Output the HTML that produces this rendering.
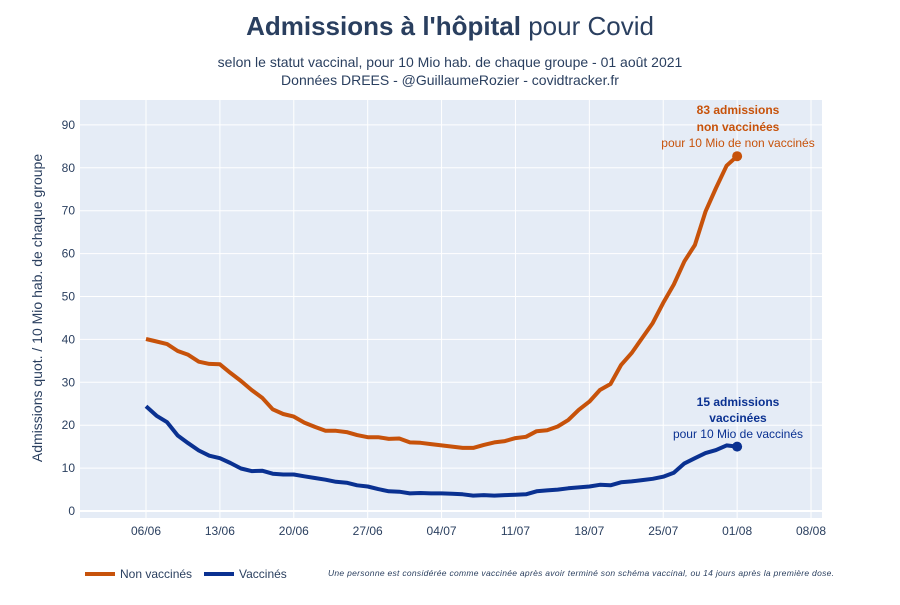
<!DOCTYPE html>
<html><head><meta charset="utf-8"><style>
body{margin:0;background:#fff;font-family:"Liberation Sans",sans-serif;}
svg text{font-family:"Liberation Sans",sans-serif;}
</style></head><body>
<svg id="chart" width="900" height="600" viewBox="0 0 900 600">
<text x="450" y="35" text-anchor="middle" font-size="26" fill="#2a3f5f"><tspan font-weight="bold">Admissions à l'hôpital</tspan> pour Covid</text>
<text x="450" y="67" text-anchor="middle" font-size="14" fill="#2a3f5f">selon le statut vaccinal, pour 10 Mio hab. de chaque groupe - 01 août 2021</text>
<text x="450" y="85" text-anchor="middle" font-size="14" fill="#2a3f5f">Données DREES - @GuillaumeRozier - covidtracker.fr</text>
<rect x="80" y="100" width="742" height="418" fill="#e5ecf6"/>
<g id="grid"></g><g id="series"></g>
<text transform="translate(42,308) rotate(-90)" text-anchor="middle" font-size="14" fill="#2a3f5f">Admissions quot. / 10 Mio hab. de chaque groupe</text>
<text x="738" y="114" text-anchor="middle" font-size="12" font-weight="bold" fill="#c7520a">83 admissions</text>
<text x="738" y="131" text-anchor="middle" font-size="12" font-weight="bold" fill="#c7520a">non vaccinées</text>
<text x="738" y="147" text-anchor="middle" font-size="12" fill="#c7520a">pour 10 Mio de non vaccinés</text>
<text x="738" y="406" text-anchor="middle" font-size="12" font-weight="bold" fill="#0a3191">15 admissions</text>
<text x="738" y="422" text-anchor="middle" font-size="12" font-weight="bold" fill="#0a3191">vaccinées</text>
<text x="738" y="438" text-anchor="middle" font-size="12" fill="#0a3191">pour 10 Mio de vaccinés</text>
<g><line x1="85" y1="574" x2="115" y2="574" stroke="#c7520a" stroke-width="4"/><text x="120" y="578" font-size="12" fill="#2a3f5f">Non vaccinés</text></g>
<g><line x1="204" y1="574" x2="234" y2="574" stroke="#0a3191" stroke-width="4"/><text x="239" y="578" font-size="12" fill="#2a3f5f">Vaccinés</text></g>
<text x="328" y="576" font-size="8.5" font-style="italic" fill="#2a3f5f" textLength="506">Une personne est considérée comme vaccinée après avoir terminé son schéma vaccinal, ou 14 jours après la première dose.</text>
</svg>
<script>
const nonVax=[40.1,39.5,38.9,37.3,36.4,34.8,34.3,34.2,32.2,30.3,28.2,26.4,23.7,22.6,22.0,20.6,19.6,18.7,18.7,18.4,17.7,17.2,17.2,16.8,16.9,
16.0,15.9,15.6,15.3,15.0,14.7,14.7,15.4,16.0,16.3,17.0,17.3,18.6,18.8,19.7,21.2,23.6,25.5,28.2,29.6,34.0,36.8,40.3,43.8,48.5,52.8,58.2,62.0,69.8,75.3,80.5,82.7];
const vax=[24.4,22.2,20.7,17.6,15.8,14.1,12.9,12.3,11.2,9.9,9.3,9.4,8.7,8.5,8.5,8.1,7.7,7.3,6.8,6.6,6.0,5.7,5.1,4.6,4.5,
4.1,4.2,4.1,4.1,4.0,3.9,3.6,3.7,3.6,3.7,3.8,3.9,4.6,4.8,5.0,5.3,5.5,5.7,6.1,6.0,6.7,6.9,7.2,7.5,8.0,8.9,11.1,12.3,13.5,14.2,15.3,15.0];
const xTickLabels=["06/06","13/06","20/06","27/06","04/07","11/07","18/07","25/07","01/08","08/08"];
const yTicks=[0,10,20,30,40,50,60,70,80,90];
const NS="http://www.w3.org/2000/svg";
const xs=d=>146+d*10.556;
const ys=v=>511-v*4.29;
function mk(t,a,p){const e=document.createElementNS(NS,t);for(const k in a)e.setAttribute(k,a[k]);p.appendChild(e);return e;}
const grid=document.getElementById('grid'),ser=document.getElementById('series');
yTicks.forEach(v=>{
 const l=mk('line',{x1:80,x2:822,y1:ys(v),y2:ys(v),stroke:'#fff','stroke-width':v===0?2:1},grid);
 
 
 const t=mk('text',{x:75,y:ys(v)+4,'text-anchor':'end','font-size':12,fill:'#2a3f5f'},grid);t.textContent=v;
 
 
});
xTickLabels.forEach((s,i)=>{
 const x=xs(i*7);
 const l=mk('line',{x1:x,x2:x,y1:100,y2:518,stroke:'#fff','stroke-width':1},grid);
 
 
 const t=mk('text',{x:x,y:535,'text-anchor':'middle','font-size':12,fill:'#2a3f5f'},grid);t.textContent=s;
 
 
});
[[nonVax,'#c7520a','line-nonvax'],[vax,'#0a3191','line-vax']].forEach(([d,c,n])=>{
 const p=mk('path',{d:d.map((v,i)=>(i?'L':'M')+xs(i).toFixed(1)+','+ys(v).toFixed(1)).join(''),fill:'none',stroke:c,'stroke-width':4,'stroke-linejoin':'round'},ser);
 
 
 const last=d.length-1;
 const m=mk('circle',{cx:xs(last),cy:ys(d[last]),r:5,fill:c},ser);
 
 
});
</script>
</body></html>
